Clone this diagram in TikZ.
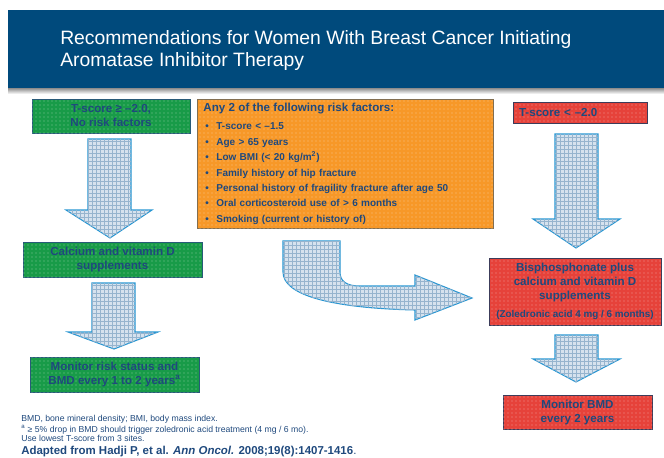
\documentclass[tikz,border=0pt]{standalone}
\usepackage{fontspec}
\setmainfont{Liberation Sans}
\usetikzlibrary{patterns}
\definecolor{titleblue}{RGB}{0,74,124}
\definecolor{txtblue}{RGB}{31,73,125}
\definecolor{gfill}{RGB}{24,155,72}
\definecolor{ofill}{RGB}{247,152,40}
\definecolor{rfill}{RGB}{230,66,58}
\definecolor{afill}{RGB}{214,226,238}
\definecolor{agrid}{RGB}{150,180,206}
\definecolor{aline}{RGB}{40,150,210}
\definecolor{gline}{RGB}{40,90,120}
\definecolor{oline}{RGB}{130,110,80}
\definecolor{rline}{RGB}{60,60,90}
\newcommand\blkdown[8]{\path[blockarrow] (#1,#3) -- (#2,#3) -- (#2,#4) -- (#6,#4) -- (#8,#7) -- (#5,#4) -- (#1,#4) -- cycle;}
\newcommand\blt{\hspace*{1.5pt}\makebox[8.25pt][l]{\textbullet}}
\begin{document}
\begin{tikzpicture}[x=0.75pt,y=-0.75pt,
  box/.style={draw, line width=0.6pt, inner sep=0pt, align=center,
    font=\bfseries\fontsize{8.7}{10.5}\selectfont, text=txtblue},
  gbox/.style={box, fill=gfill, draw=gline, postaction={pattern=dots, pattern color=gfill!55!white}},
  obox/.style={box, fill=ofill, draw=oline, postaction={pattern=dots, pattern color=ofill!55!white}},
  rbox/.style={box, fill=rfill, draw=rline, postaction={pattern=dots, pattern color=rfill!55!white}},
  blockarrow/.style={draw=aline, line width=0.8pt, fill=afill, line join=miter,
    postaction={pattern=grid, pattern color=agrid}},
  foot/.style={anchor=base west, inner sep=0pt, text=txtblue, font=\fontsize{6.5}{7.5}\selectfont}]
\useasboundingbox (0,0) rectangle (664,457);
% title band
\shade[top color=black!45, bottom color=white] (8,88) rectangle (664,94);
\fill[titleblue] (8,10) rectangle (664,88);
\node[anchor=north west, inner sep=0pt, align=left, text=white,
  font=\fontsize{14.5}{16.5}\selectfont] (title) at (60,30)
  {Recommendations for Women With Breast Cancer Initiating\\Aromatase Inhibitor Therapy};
% arrows
\blkdown{88}{131}{139}{210}{66}{152}{238}{110}
\blkdown{92}{135}{283}{332}{68}{158}{349}{114}
\blkdown{555}{598}{134}{219}{533}{620}{248}{576}
\blkdown{555}{598}{335}{359}{533}{620}{382}{576}
\path[blockarrow] (283,241) -- (340,241) -- (340,272)
  .. controls (340,281) and (346,286) .. (360,286) -- (415,286) -- (415,275)
  -- (472,298) -- (415,320) -- (415,310)
  .. controls (330,308) and (283,295) .. (283,272) -- cycle;
% boxes
\node[gbox, minimum width=158*0.75pt, minimum height=34*0.75pt] (g1) at (111,116)
  {T-score ≥ –2.0,\\No risk factors};
\node[gbox, minimum width=179*0.75pt, minimum height=35*0.75pt] (g2) at (112.5,259.5)
  {Calcium and vitamin D\\supplements};
\node[gbox, minimum width=169*0.75pt, minimum height=35*0.75pt] (g3) at (114.5,374.5)
  {Monitor risk status and\\BMD every 1 to 2 years\textsuperscript{a}};
\node[obox, anchor=north west, minimum width=296*0.75pt, minimum height=129*0.75pt,
  text width=284*0.75pt, align=left, inner xsep=6*0.75pt,
  font=\bfseries\fontsize{7.5}{11.55}\selectfont] (rf) at (197,99)
  {{\fontsize{8.7}{11}\selectfont Any 2 of the following risk factors:}\\[2pt]
   \blt T-score < –1.5\\
   \blt Age > 65 years\\
   \blt Low BMI (< 20 kg/m\textsuperscript{2})\\
   \blt Family history of hip fracture\\
   \blt Personal history of fragility fracture after age 50\\
   \blt Oral corticosteroid use of > 6 months\\
   \blt Smoking (current or history of)};
\node[rbox, minimum width=134*0.75pt, minimum height=21*0.75pt, text width=122*0.75pt,
  align=left, inner xsep=6*0.75pt] (r1) at (580,112.5) {T-score < –2.0};
\node[rbox, minimum width=172*0.75pt, minimum height=67*0.75pt] (r2) at (575,291.5)
  {Bisphosphonate plus\\calcium and vitamin D\\supplements\\[3pt]
   {\fontsize{7.4}{9}\selectfont (Zoledronic acid 4 mg / 6 months)}};
\node[rbox, minimum width=149*0.75pt, minimum height=34*0.75pt] (r3) at (577.5,412)
  {Monitor BMD\\every 2 years};
% footnotes
\node[foot] (fn1) at (21,421) {BMD, bone mineral density; BMI, body mass index.};
\node[foot] (fn2) at (21,432) {\textsuperscript{a} ≥ 5\% drop in BMD should trigger zoledronic acid treatment (4 mg / 6 mo).};
\node[foot] (fn3) at (21,441) {Use lowest T-score from 3 sites.};
\node[foot, font=\bfseries\fontsize{8.6}{10}\selectfont] (src) at (21,454)
  {Adapted from Hadji P, et al. \textit{Ann Oncol.} 2008;19(8):1407-1416{\mdseries .}};
\end{tikzpicture}
\end{document}
